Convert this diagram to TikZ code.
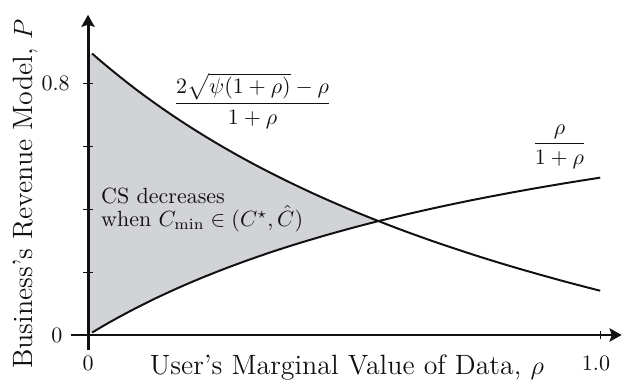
\documentclass[tikz,border=0pt]{standalone}
\usepackage{amsmath}
\usepackage{amssymb}
\usepackage{xcolor}
\usepackage{tikz}
\usetikzlibrary{arrows.meta, positioning, calc}
\definecolor{regiongray}{RGB}{210,211,214}
\definecolor{inkblack}{HTML}{111111}

% parameter of the upper curve and the crossing point of both curves
\newcommand{\psival}{0.205}
\newcommand{\rhocross}{0.5667}

\begin{document}
\begin{tikzpicture}[x=8.19cm, y=5.03cm,
  axis/.style={-{Stealth[length=5.5pt, width=6pt, inset=1pt]}, line width=1.35pt, color=inkblack},
  curve/.style={line width=0.9pt, color=inkblack, line join=round},
  tickmark/.style={line width=0.45pt, color=inkblack},
  ticklbl/.style={inner sep=0pt, color=inkblack},
  axislbl/.style={font=\fontsize{12.7}{15}\selectfont, inner sep=0pt, anchor=base, color=inkblack},
]
\useasboundingbox (-0.1717,-0.1398) rectangle (1.0436,1.064);

% Shaded region between the curves
\fill[regiongray] (0,0.008)
  -- plot[domain=0.008:\rhocross, samples=40, smooth] (\x,{\x/(1+\x)})
  -- plot[domain=\rhocross:0.008, samples=40, smooth] (\x,{(2*sqrt(\psival*(1+\x))-\x)/(1+\x)})
  -- (0,0.895) -- cycle;

% Axes
\coordinate (xstart) at (-0.033,0);
\coordinate (xend)   at (1.041,0);
\coordinate (ystart) at (0,-0.048);
\coordinate (yend)   at (0,1.017);
\draw[axis] (xstart) -- (xend);
\draw[axis] (ystart) -- (yend);

% Ticks
\foreach \t in {0.2,0.4,0.6,0.8}
  \draw[tickmark] (-0.009,\t) -- (0.009,\t);
\draw[tickmark] (1,-0.013) -- (1,0.013);

% Tick labels
\node[ticklbl, anchor=east] (y08) at (-0.035,0.8) {0.8};
\node[ticklbl, anchor=east] (y0)  at (-0.049,0)   {0};
\node[ticklbl] (x0)  at (0,-0.089)     {0};
\node[ticklbl] (x10) at (0.991,-0.089) {1.0};

% Axis labels
\node[axislbl] (xlbl) at (0.505,-0.127) {User's Marginal Value of Data, $\rho$};
\node[axislbl, rotate=90] (ylbl) at (-0.109,0.448) {Business's Revenue Model, $P$};

% Curves
\draw[curve] plot[domain=0.008:1, samples=60, smooth] (\x,{\x/(1+\x)});
\draw[curve] plot[domain=0.008:1, samples=60, smooth] (\x,{(2*sqrt(\psival*(1+\x))-\x)/(1+\x)});

% Curve labels
\node[color=inkblack] (upperlbl) at (0.321,0.744) {$\dfrac{2\sqrt{\psi(1+\rho)}-\rho}{1+\rho}$};
\node[color=inkblack] (lowerlbl) at (0.9196,0.598) {$\dfrac{\rho}{1+\rho}$};

% Region label
\node[align=left, anchor=west, color=inkblack] (cslbl) at (0.0105,0.397)
  {CS decreases\\[-1.5pt] when $C_{\min}\in(C^\star,\hat{C})$};
\end{tikzpicture}
\end{document}
